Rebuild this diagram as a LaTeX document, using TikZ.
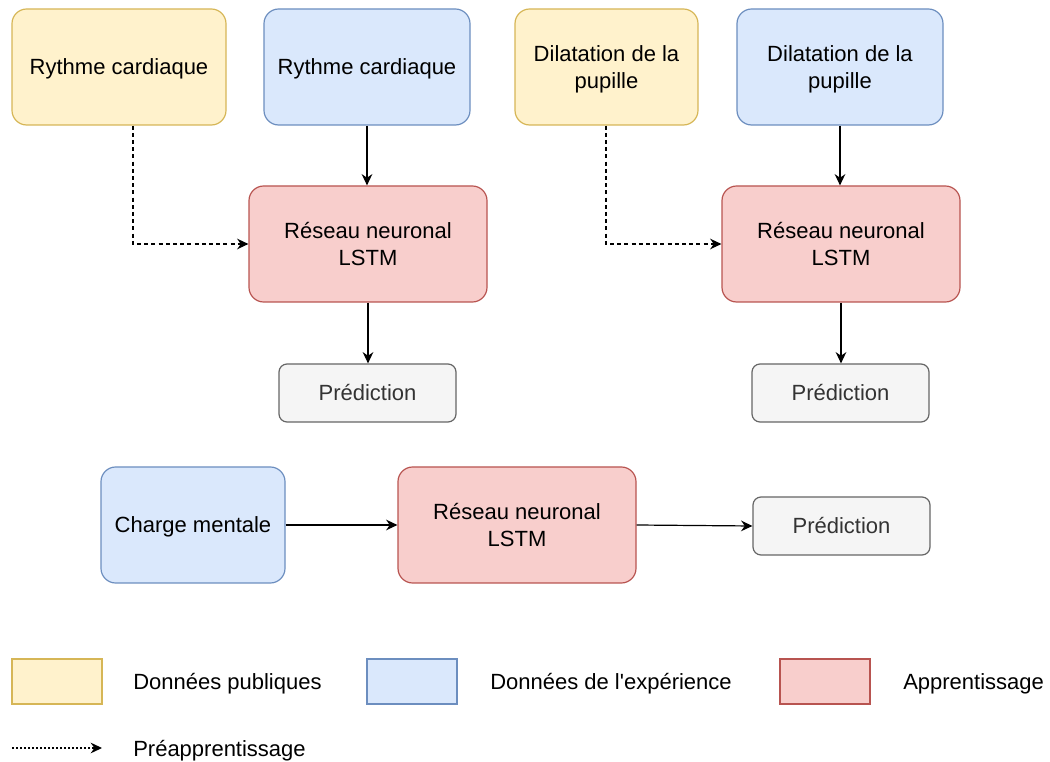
\documentclass[tikz,border=0pt]{standalone}
\usepackage{fontspec}
\setmainfont{Liberation Sans}
\usetikzlibrary{arrows.meta}

\definecolor{pubfill}{HTML}{FFF2CC}
\definecolor{pubdraw}{HTML}{D6B656}
\definecolor{expfill}{HTML}{DAE8FC}
\definecolor{expdraw}{HTML}{6C8EBF}
\definecolor{lrnfill}{HTML}{F8CECC}
\definecolor{lrndraw}{HTML}{B85450}
\definecolor{outfill}{HTML}{F5F5F5}
\definecolor{outdraw}{HTML}{666666}
\definecolor{outtext}{HTML}{333333}

% fixed line height and depth so every label sits at the same level
\newcommand{\linetop}{\rule{0pt}{17pt}}
\newcommand{\linebot}{\rule[-5pt]{0pt}{0pt}}

\tikzset{
  every node/.style={font=\fontsize{16.5}{20.25}\selectfont, inner sep=0pt},
  struts/.style={execute at begin node={\linetop}, execute at end node={\linebot}},
  box/.style={rounded corners=11pt, line width=0.9pt, align=center, minimum height=87pt},
  pubbox/.style={box, fill=pubfill, draw=pubdraw},
  expbox/.style={box, fill=expfill, draw=expdraw},
  lrnbox/.style={box, fill=lrnfill, draw=lrndraw, minimum width=178.5pt},
  outbox/.style={struts, rounded corners=6pt, line width=0.9pt, fill=outfill, draw=outdraw,
                 text=outtext, minimum width=132.75pt, minimum height=43.5pt},
  keybox/.style={line width=0.9pt, minimum width=67.5pt, minimum height=33.75pt},
  keytext/.style={struts, anchor=west},
  flow/.style={line width=0.9pt, -{Stealth[length=8.5pt, width=8pt, inset=2.8pt]}},
  preflow/.style={flow, dash pattern=on 3pt off 2.4pt},
  keyflow/.style={flow, dash pattern=on 1.6pt off 1.4pt}
}

\begin{document}
\begin{tikzpicture}[x=0.75pt, y=-0.75pt]
  \useasboundingbox (0,0) rectangle (1050,762);

  % heart rate branch
  \node[pubbox, minimum width=160.5pt] (hrpub) at (119,67) {\linetop Rythme cardiaque\linebot};
  \node[expbox, minimum width=154.5pt] (hrexp) at (367,67) {\linetop Rythme cardiaque\linebot};
  \node[lrnbox] (hrnet) at (368,244) {\linetop Réseau neuronal\\LSTM\linebot};
  \node[outbox] (hrout) at (367.5,393) {Prédiction};

  % pupil dilation branch
  \node[pubbox, minimum width=137.25pt] (pdpub) at (606.5,67) {\linetop Dilatation de la\\pupille\linebot};
  \node[expbox, minimum width=154.5pt] (pdexp) at (840,67) {\linetop Dilatation de la\\pupille\linebot};
  \node[lrnbox] (pdnet) at (841,244) {\linetop Réseau neuronal\\LSTM\linebot};
  \node[outbox] (pdout) at (840.5,393) {Prédiction};

  % mental workload branch
  \node[expbox, minimum width=138pt] (mwexp) at (193,525) {\linetop Charge mentale\linebot};
  \node[lrnbox] (mwnet) at (517,525) {\linetop Réseau neuronal\\LSTM\linebot};
  \node[outbox] (mwout) at (841.5,526) {Prédiction};

  % connectors
  \coordinate (hrbend) at (133,244);
  \coordinate (pdbend) at (606,244);
  \draw[preflow] (hrpub.south -| hrbend) |- (hrnet.west);
  \draw[flow] (hrexp.south) -- (hrexp.south |- hrnet.north);
  \draw[flow] (hrnet.south) -- (hrnet.south |- hrout.north);

  \draw[preflow] (pdpub.south -| pdbend) |- (pdnet.west);
  \draw[flow] (pdexp.south) -- (pdexp.south |- pdnet.north);
  \draw[flow] (pdnet.south) -- (pdnet.south |- pdout.north);

  \draw[flow] (mwexp.east) -- (mwnet.west);
  \draw[flow] (mwnet.east) -- (mwout.west);

  % legend
  \node[keybox, fill=pubfill, draw=pubdraw] (kpub) at (57,681.5) {};
  \node[keytext] (kpubt) at (133,681.5) {Données publiques};
  \node[keybox, fill=expfill, draw=expdraw] (kexp) at (412,681.5) {};
  \node[keytext] (kexpt) at (490,681.5) {Données de l\textquotesingle expérience};
  \node[keybox, fill=lrnfill, draw=lrndraw] (klrn) at (825,681.5) {};
  \node[keytext] (klrnt) at (903,681.5) {Apprentissage};

  \coordinate (kpa) at (12,748);
  \coordinate (kpb) at (102,748);
  \draw[keyflow] (kpa) -- (kpb);
  \node[keytext] (kpret) at (133,748) {Préapprentissage};
\end{tikzpicture}
\end{document}
